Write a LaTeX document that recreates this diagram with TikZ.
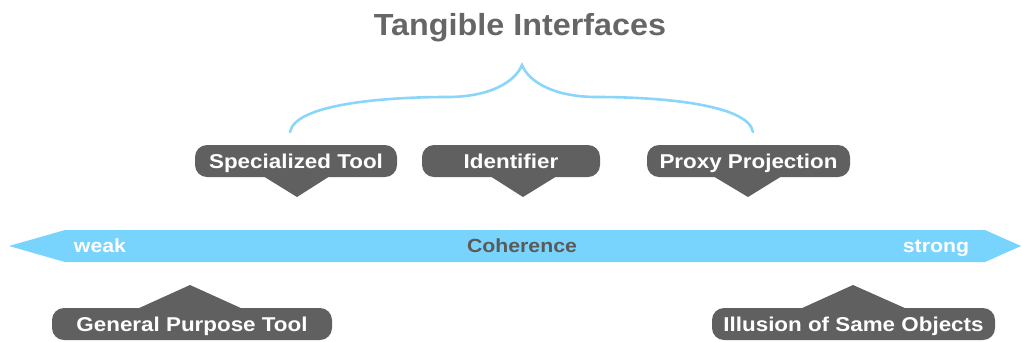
\documentclass[tikz,border=0pt]{standalone}
\usepackage{fontspec}
\setmainfont{Liberation Sans}
\newfontfamily\widesans[FakeStretch=1.12]{Liberation Sans}
\newfontfamily\titlesans[FakeStretch=1.06]{Liberation Sans}
\usetikzlibrary{calc}
\definecolor{boxgray}{HTML}{606060}
\definecolor{titlegray}{HTML}{666666}
\definecolor{barblue}{HTML}{78D4FC}
\definecolor{braceblue}{HTML}{8AD6FA}
\definecolor{cohgray}{HTML}{5A5A5A}
\tikzset{
  callout/.style={fill=boxgray, rounded corners=12pt, minimum height=32pt, inner sep=0pt,
    text=white, font=\widesans\fontsize{20}{20}\selectfont\bfseries,
    text height=14.3pt, text depth=0pt},
  bartext/.style={font=\widesans\fontsize{19}{19}\selectfont\bfseries, inner sep=0pt,
    text height=13.6pt, text depth=0pt},
}
\begin{document}
\begin{tikzpicture}[x=1pt,y=-1pt]
\useasboundingbox (0,0) rectangle (1022,341);
% title
\node[text=titlegray, font=\titlesans\fontsize{30.5}{30.5}\selectfont\bfseries,
  text height=22pt, text depth=0pt, inner sep=0pt] (title) at (520,24) {Tangible Interfaces};
% brace
\coordinate (bl) at (290,132);
\coordinate (bp) at (522,65);
\coordinate (br) at (753,132);
\draw[braceblue, line width=2.6pt, line cap=round]
  (bl) .. controls (295,104) and (385,97) .. (447,97)
       .. controls (490,97) and (515,82) .. (bp)
       .. controls (529,82) and (554,97) .. (597,97)
       .. controls (659,97) and (748,104) .. (br);
% bar
\fill[barblue] (9,246) -- (65,230) -- (985,230) -- (1021,246) -- (985,262) -- (65,262) -- cycle;
\node[bartext, text=white] (weak) at (100,246) {weak};
\node[bartext, text=cohgray] (coh) at (522,246) {Coherence};
\node[bartext, text=white] (strong) at (936,246) {strong};
% upper callouts
\node[callout, minimum width=202pt] (st) at (296,161) {Specialized Tool};
\fill[boxgray] (263,176) -- (297,197) -- (330,176) -- cycle;
\node[callout, minimum width=178pt] (id) at (511,161) {Identifier};
\fill[boxgray] (490,176) -- (523,197) -- (557,176) -- cycle;
\node[callout, minimum width=203pt] (pp) at (748.5,161) {Proxy Projection};
\fill[boxgray] (713,176) -- (748,197) -- (782,176) -- cycle;
% lower callouts
\node[callout, minimum width=280pt] (gp) at (192,324) {General Purpose Tool};
\fill[boxgray] (137,309) -- (190,285) -- (243,309) -- cycle;
\node[callout, minimum width=283pt] (il) at (853.5,324) {Illusion of Same Objects};
\fill[boxgray] (800,309) -- (853,285) -- (907,309) -- cycle;
\end{tikzpicture}
\end{document}
